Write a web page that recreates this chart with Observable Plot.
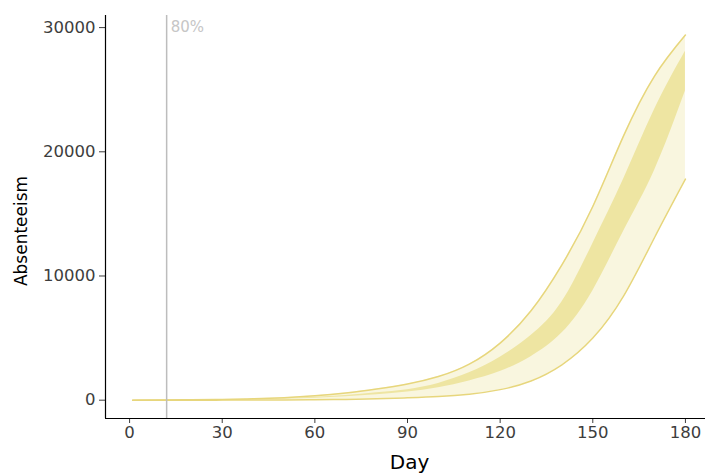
<!DOCTYPE html>
<html>
<head>
<meta charset="utf-8">
<script src="https://cdn.jsdelivr.net/npm/d3@7"></script>
<script src="https://cdn.jsdelivr.net/npm/@observablehq/plot@0.6"></script>
<style>
  html, body { margin: 0; padding: 0; background: #ffffff; }
  #chart { width: 705px; height: 475px; overflow: hidden; }
</style>
</head>
<body>
<div id="chart"></div>
<script>
// ---- data ----
const days = [1, 10, 20, 30, 40, 50, 60, 70, 80, 90, 100, 110, 120, 130, 140, 150, 160, 170, 180];
const hi95 = [0, 10, 30, 60, 110, 200, 350, 580, 900, 1300, 1900, 2900, 4600, 7200, 10900, 15600, 21300, 26100, 29400];
const hi50 = [0, 5, 15, 35, 70, 130, 230, 380, 600, 850, 1350, 2200, 3450, 5200, 7900, 12600, 17800, 23400, 28100];
const lo50 = [0, 3, 8, 20, 45, 90, 160, 270, 430, 650, 1000, 1550, 2300, 3500, 5400, 8800, 13600, 18500, 24900];
const lo95 = [0, 1, 2, 5, 10, 20, 35, 60, 110, 190, 290, 480, 850, 1550, 2850, 5000, 8400, 13100, 17800];

const xTicks = [0, 30, 60, 90, 120, 150, 180];
const yTicks = [0, 10000, 20000, 30000];
const markerDay = [12];
const markerLabel = ["80%"];
const markerLabelY = [30000];
const xTitle = "Day";
const yTitle = "Absenteeism";

const xDomain = [-7.8, 186.5];
const yDomain = [-1475, 30975];

const rows = days.map((d, i) => ({day: d, hi95: hi95[i], hi50: hi50[i], lo50: lo50[i], lo95: lo95[i]}));
const marker = markerDay.map((d, i) => ({day: d, label: markerLabel[i], y: markerLabelY[i]}));

const curve = "natural";
const font = "DejaVu Sans";

const chart = Plot.plot({
  width: 705,
  height: 475,
  marginLeft: 105,
  marginRight: 0,
  marginTop: 15,
  marginBottom: 57,
  style: {fontFamily: font, background: "#ffffff", overflow: "visible"},
  x: {domain: xDomain},
  y: {domain: yDomain},
  marks: [
    Plot.areaY(rows, {x: "day", y1: "lo95", y2: "hi95", fill: "#f9f6df", curve}),
    Plot.areaY(rows, {x: "day", y1: "lo50", y2: "hi50", fill: "#eee5a2", curve}),
    Plot.lineY(rows, {x: "day", y: "hi95", stroke: "#e7d67c", strokeWidth: 1.5, curve}),
    Plot.lineY(rows, {x: "day", y: "lo95", stroke: "#e7d67c", strokeWidth: 1.5, curve}),
    Plot.ruleX(marker, {x: "day", stroke: "#bdbdbd", strokeWidth: 1.5}),
    Plot.text(marker, {x: "day", y: "y", text: "label", dx: 4, dy: -6, textAnchor: "start", lineAnchor: "top", fill: "#c6c6c6", fontSize: 15}),
    Plot.axisX({ticks: xTicks, tickSize: 5, tickPadding: 3, label: null, fontSize: 16.5, color: "#3d3d3d", tickFormat: d => String(d)}),
    Plot.axisY({ticks: yTicks, tickSize: 6, tickPadding: 4, label: null, fontSize: 16.5, color: "#3d3d3d", tickFormat: d => String(d)}),
    Plot.ruleX([xDomain[0]], {stroke: "#000", strokeWidth: 1.2}),
    Plot.ruleY([yDomain[0]], {stroke: "#000", strokeWidth: 1.2}),
    Plot.text([xTitle], {frameAnchor: "bottom", text: d => d, textAnchor: "middle", dx: 4, dy: 44, lineAnchor: "middle", fontSize: 20, fill: "#000"}),
    Plot.text([yTitle], {frameAnchor: "left", text: d => d, textAnchor: "middle", rotate: -90, dx: -84, dy: 14, lineAnchor: "middle", fontSize: 17, fill: "#000"})
  ]
});

document.getElementById("chart").appendChild(chart);
</script>
</body>
</html>
